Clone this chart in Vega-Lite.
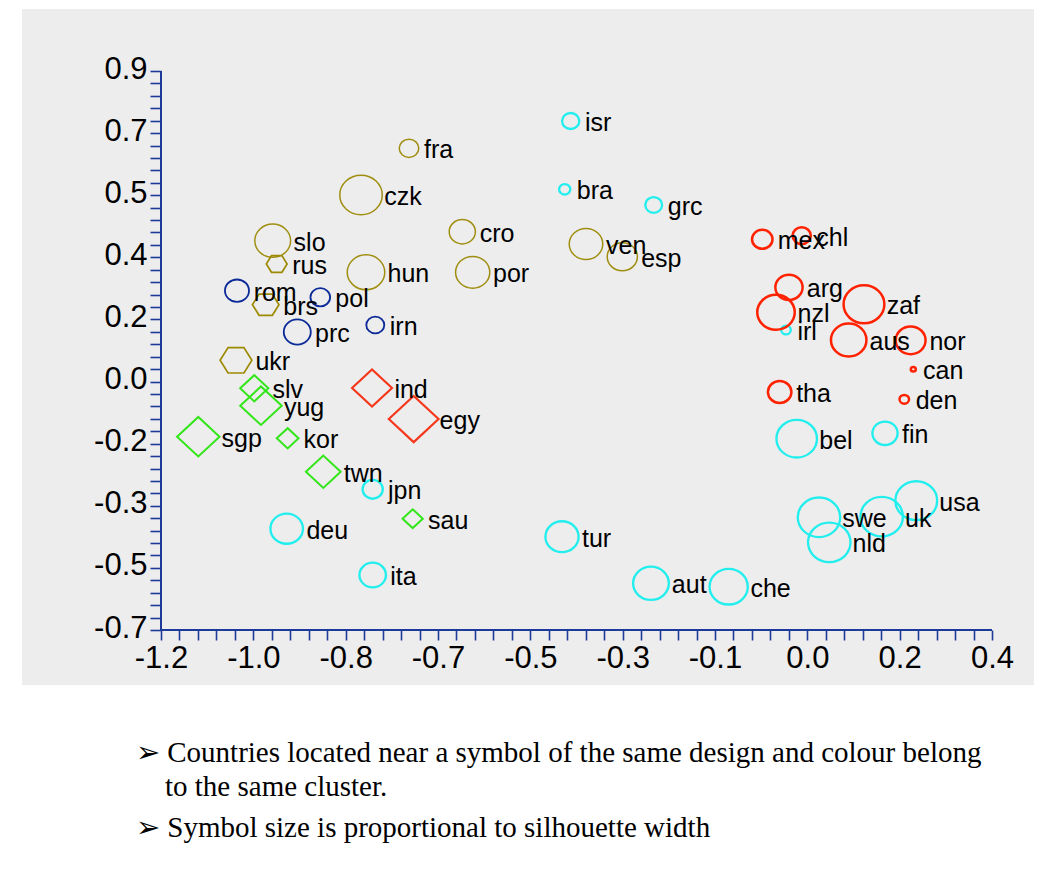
{
  "$schema": "https://vega.github.io/schema/vega-lite/v6.json",
  "width": 1012,
  "height": 676,
  "autosize": {"type": "none"},
  "padding": {"left": 22, "top": 9, "right": 9, "bottom": 201},
  "background": "white",
  "config": {
    "view": {"fill": "#ededed", "stroke": null},
    "axis": {"grid": false, "domain": false, "title": null}
  },
  "title": {
    "text": ["➢\u00a0Countries located near a symbol of the same design and colour belong", "\u200b\u00a0\u00a0\u00a0\u00a0to the same cluster."],
    "subtitle": "➢\u00a0Symbol size is proportional to silhouette width",
    "orient": "bottom",
    "anchor": "start",
    "frame": "group",
    "dx": 114,
    "offset": 54,
    "baseline": "top",
    "font": "Liberation Serif",
    "fontSize": 29,
    "fontWeight": "normal",
    "color": "black",
    "lineHeight": 34,
    "subtitleFont": "Liberation Serif",
    "subtitleFontSize": 29,
    "subtitleColor": "black",
    "subtitleLineHeight": 34,
    "subtitlePadding": 12
  },
  "data": {
    "values": [
      {"c": "fra", "cl": "1", "x": -0.7225, "y": 0.6787, "sil": 0.279},
      {"c": "czk", "cl": "1", "x": -0.8149, "y": 0.5451, "sil": 0.607},
      {"c": "cro", "cl": "1", "x": -0.6199, "y": 0.44, "sil": 0.374},
      {"c": "hun", "cl": "1", "x": -0.8053, "y": 0.3238, "sil": 0.536},
      {"c": "por", "cl": "1", "x": -0.5999, "y": 0.3238, "sil": 0.489},
      {"c": "ven", "cl": "1", "x": -0.3817, "y": 0.4048, "sil": 0.479},
      {"c": "esp", "cl": "1", "x": -0.3118, "y": 0.3685, "sil": 0.431},
      {"c": "slo", "cl": "1", "x": -0.9849, "y": 0.4143, "sil": 0.511},
      {"c": "rus", "cl": "2", "x": -0.9772, "y": 0.3476, "sil": 0.297},
      {"c": "brs", "cl": "2", "x": -0.9984, "y": 0.2311, "sil": 0.379},
      {"c": "ukr", "cl": "2", "x": -1.0556, "y": 0.072, "sil": 0.454},
      {"c": "rom", "cl": "3", "x": -1.0537, "y": 0.2712, "sil": 0.343},
      {"c": "pol", "cl": "3", "x": -0.8933, "y": 0.2523, "sil": 0.281},
      {"c": "prc", "cl": "3", "x": -0.9376, "y": 0.153, "sil": 0.386},
      {"c": "irn", "cl": "3", "x": -0.7874, "y": 0.173, "sil": 0.257},
      {"c": "slv", "cl": "4", "x": -1.0204, "y": -0.0082, "sil": 0.403},
      {"c": "yug", "cl": "4", "x": -1.0075, "y": -0.058, "sil": 0.593},
      {"c": "sgp", "cl": "4", "x": -1.1282, "y": -0.1467, "sil": 0.607},
      {"c": "kor", "cl": "4", "x": -0.9561, "y": -0.1513, "sil": 0.311},
      {"c": "twn", "cl": "4", "x": -0.8875, "y": -0.2469, "sil": 0.497},
      {"c": "sau", "cl": "4", "x": -0.7154, "y": -0.3814, "sil": 0.289},
      {"c": "ind", "cl": "5", "x": -0.7937, "y": -0.0073, "sil": 0.571},
      {"c": "egy", "cl": "5", "x": -0.7135, "y": -0.0961, "sil": 0.711},
      {"c": "isr", "cl": "6", "x": -0.4112, "y": 0.7569, "sil": 0.246},
      {"c": "bra", "cl": "6", "x": -0.4227, "y": 0.5614, "sil": 0.16},
      {"c": "grc", "cl": "6", "x": -0.2514, "y": 0.5165, "sil": 0.24},
      {"c": "jpn", "cl": "6", "x": -0.7924, "y": -0.2973, "sil": 0.289},
      {"c": "deu", "cl": "6", "x": -0.958, "y": -0.41, "sil": 0.464},
      {"c": "ita", "cl": "6", "x": -0.7924, "y": -0.5426, "sil": 0.379},
      {"c": "tur", "cl": "6", "x": -0.4279, "y": -0.433, "sil": 0.474},
      {"c": "aut", "cl": "6", "x": -0.2566, "y": -0.5663, "sil": 0.511},
      {"c": "che", "cl": "6", "x": -0.107, "y": -0.5761, "sil": 0.546},
      {"c": "irl", "cl": "6", "x": 0.0034, "y": 0.1587, "sil": 0.136},
      {"c": "bel", "cl": "6", "x": 0.024, "y": -0.1524, "sil": 0.579},
      {"c": "fin", "cl": "6", "x": 0.194, "y": -0.137, "sil": 0.36},
      {"c": "swe", "cl": "6", "x": 0.0669, "y": -0.3774, "sil": 0.607},
      {"c": "nld", "cl": "6", "x": 0.0867, "y": -0.449, "sil": 0.607},
      {"c": "uk", "cl": "6", "x": 0.1876, "y": -0.3757, "sil": 0.607},
      {"c": "usa", "cl": "6", "x": 0.2542, "y": -0.3299, "sil": 0.597},
      {"c": "mex", "cl": "7", "x": -0.0423, "y": 0.4183, "sil": 0.293},
      {"c": "chl", "cl": "7", "x": 0.0336, "y": 0.4286, "sil": 0.26},
      {"c": "arg", "cl": "7", "x": 0.0091, "y": 0.2809, "sil": 0.389},
      {"c": "nzl", "cl": "7", "x": -0.0159, "y": 0.2093, "sil": 0.536},
      {"c": "zaf", "cl": "7", "x": 0.1535, "y": 0.2322, "sil": 0.583},
      {"c": "aus", "cl": "7", "x": 0.1241, "y": 0.13, "sil": 0.507},
      {"c": "nor", "cl": "7", "x": 0.2434, "y": 0.1292, "sil": 0.426},
      {"c": "can", "cl": "7", "x": 0.2485, "y": 0.0462, "sil": 0.071},
      {"c": "den", "cl": "7", "x": 0.2311, "y": -0.0397, "sil": 0.136},
      {"c": "tha", "cl": "7", "x": -0.0088, "y": -0.0188, "sil": 0.336}
    ]
  },
  "layer": [
    {
      "mark": {"type": "point", "filled": false, "opacity": 1},
      "encoding": {
        "x": {
          "field": "x", "type": "quantitative",
          "scale": {"domain": [-1.46763, 0.48087], "nice": false, "zero": false},
          "axis": {
            "orient": "bottom", "offset": -55, "tickCount": 200,
            "values": [-1.2, -1.16444, -1.12889, -1.09333, -1.05778, -1.02222, -0.98667, -0.95111, -0.91556, -0.88, -0.84444, -0.80889, -0.77333, -0.73778, -0.70222, -0.66667, -0.63111, -0.59556, -0.56, -0.52444, -0.48889, -0.45333, -0.41778, -0.38222, -0.34667, -0.31111, -0.27556, -0.24, -0.20444, -0.16889, -0.13333, -0.09778, -0.06222, -0.02667, 0.00889, 0.04444, 0.08, 0.11556, 0.15111, 0.18667, 0.22222, 0.25778, 0.29333, 0.32889, 0.36444, 0.4],
            "labelExpr": "abs((datum.value + 1.2) / 0.1777778 - round((datum.value + 1.2) / 0.1777778)) < 0.02 ? replace(format(datum.value, '.1f'), '\u2212', '-') : ''",
            "tickSize": 10, "tickWidth": 1.6, "tickColor": "#1b3a9a",
            "labelFont": "Liberation Sans", "labelFontSize": 31, "labelColor": "black",
            "labelPadding": 3, "labelFlush": false, "labelOverlap": false, "labelBound": false
          }
        },
        "y": {
          "field": "y", "type": "quantitative",
          "scale": {"domain": [-0.85742, 1.07746], "nice": false, "zero": false},
          "axis": {
            "orient": "left", "offset": -139, "tickCount": 200,
            "values": [-0.7, -0.66444, -0.62889, -0.59333, -0.55778, -0.52222, -0.48667, -0.45111, -0.41556, -0.38, -0.34444, -0.30889, -0.27333, -0.23778, -0.20222, -0.16667, -0.13111, -0.09556, -0.06, -0.02444, 0.01111, 0.04667, 0.08222, 0.11778, 0.15333, 0.18889, 0.22444, 0.26, 0.29556, 0.33111, 0.36667, 0.40222, 0.43778, 0.47333, 0.50889, 0.54444, 0.58, 0.61556, 0.65111, 0.68667, 0.72222, 0.75778, 0.79333, 0.82889, 0.86444, 0.9],
            "labelExpr": "abs((datum.value + 0.7) / 0.1777778 - round((datum.value + 0.7) / 0.1777778)) < 0.02 ? replace(format(datum.value, '.1f'), '\u2212', '-') : ''",
            "tickSize": 11, "tickWidth": 1.6, "tickColor": "#1b3a9a",
            "labelFont": "Liberation Sans", "labelFontSize": 31, "labelColor": "black",
            "labelPadding": 3, "labelOffset": -2, "labelFlush": false, "labelOverlap": false, "labelBound": false
          }
        },
        "shape": {
          "field": "cl", "type": "nominal", "legend": null,
          "scale": {
            "domain": ["1", "2", "3", "4", "5", "6", "7"],
            "range": [
              "M-1,0A1,0.93,0,1,1,1,0A1,0.93,0,1,1,-1,0Z",
              "M-1,0L-0.5,-0.8L0.5,-0.8L1,0L0.5,0.8L-0.5,0.8Z",
              "M-1,0A1,0.93,0,1,1,1,0A1,0.93,0,1,1,-1,0Z",
              "M-1,0L0,-0.93L1,0L0,0.93Z",
              "M-1,0L0,-0.93L1,0L0,0.93Z",
              "M-1,0A1,0.93,0,1,1,1,0A1,0.93,0,1,1,-1,0Z",
              "M-1,0A1,0.93,0,1,1,1,0A1,0.93,0,1,1,-1,0Z"
            ]
          }
        },
        "stroke": {
          "field": "cl", "type": "nominal", "legend": null,
          "scale": {
            "domain": ["1", "2", "3", "4", "5", "6", "7"],
            "range": ["#a08e10", "#9c8a00", "#0c2a98", "#33e619", "#f5371c", "#22eeee", "#ff2200"]
          }
        },
        "strokeWidth": {
          "field": "cl", "type": "nominal", "legend": null,
          "scale": {
            "domain": ["1", "2", "3", "4", "5", "6", "7"],
            "range": [1.5, 2.5, 2, 2.5, 1.2, 2.5, 2.5]
          }
        },
        "size": {
          "field": "sil", "type": "quantitative", "legend": null,
          "scale": {"type": "pow", "exponent": 2, "domain": [0, 1], "range": [0, 4900]}
        }
      }
    },
    {
      "mark": {"type": "rule", "color": "#1b3a9a", "strokeWidth": 2},
      "encoding": {
        "x": {"datum": -1.2, "type": "quantitative"},
        "x2": {"datum": 0.4},
        "y": {"datum": -0.7, "type": "quantitative"}
      }
    },
    {
      "mark": {"type": "rule", "color": "#1b3a9a", "strokeWidth": 2},
      "encoding": {
        "x": {"datum": -1.2, "type": "quantitative"},
        "y": {"datum": -0.7, "type": "quantitative"},
        "y2": {"datum": 0.9}
      }
    },
    {
      "mark": {"type": "text", "align": "left", "baseline": "middle", "theta": 1.5708, "dx": 8, "dy": 2, "font": "Liberation Sans", "fontSize": 25, "color": "black"},
      "encoding": {
        "x": {"field": "x", "type": "quantitative"},
        "y": {"field": "y", "type": "quantitative"},
        "radius": {"field": "sil", "type": "quantitative", "scale": {"type": "linear", "domain": [0, 1], "range": [0, 25.2], "zero": true}},
        "text": {"field": "c", "type": "nominal"}
      }
    }
  ]
}
